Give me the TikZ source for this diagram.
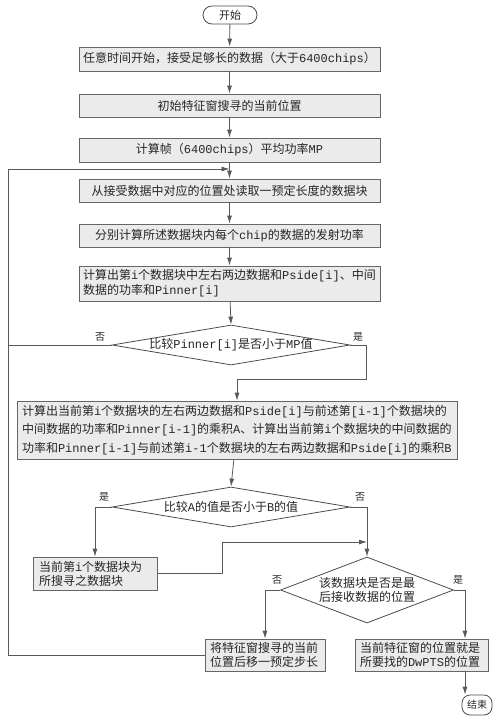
\documentclass[tikz,border=0pt]{standalone}
\usepackage{fontspec}
\setmainfont{Noto Sans CJK SC}
\newfontfamily\mono{Liberation Mono}
\usetikzlibrary{arrows.meta,shapes.geometric}
\begin{document}
\begin{tikzpicture}[x=1pt,y=-1pt,
  every node/.style={text=black!85},
  box/.style={draw=black!60, fill=black!8, line width=0.8pt, minimum width=301pt, minimum height=23pt, inner sep=0pt, font=\fontsize{12}{15}\selectfont},
  term/.style={draw=black!70, line width=0.8pt, rounded corners=9pt, minimum width=54pt, minimum height=18pt, inner sep=0pt, font=\fontsize{11}{13}\selectfont},
  dia/.style={draw=black!70, line width=0.8pt, diamond, inner sep=0pt},
  dtext/.style={font=\fontsize{12}{14}\selectfont, align=center},
  lab/.style={font=\fontsize{10}{12}\selectfont},
  conn/.style={draw=black!65, line width=0.8pt},
  arr/.style={conn, -{Latex[length=8pt,width=5pt]}}
]
\useasboundingbox (0,0) rectangle (500,720);

\node[term] (start) at (230,15) {开始};
\node[box, minimum height=24pt] (b1) at (229.5,59) {任意时间开始，接受足够长的数据（大于{\mono 6400chips}）};
\node[box] (b2) at (229.5,105.5) {初始特征窗搜寻的当前位置};
\node[box, minimum height=24pt] (b3) at (229.5,150) {计算帧（{\mono 6400chips}）平均功率{\mono MP}};
\node[box] (b4) at (229.5,190.5) {从接受数据中对应的位置处读取一预定长度的数据块};
\node[box] (b5) at (229.5,235.5) {分别计算所述数据块内每个{\mono chip}的数据的发射功率};
\node[box, minimum height=35pt, text width=293pt, align=left] (b6) at (229.5,283.5) {计算出第{\mono i}个数据块中左右两边数据和{\mono Pside[i]}、中间\\数据的功率和{\mono Pinner[i]}};

\node[dia, minimum width=238pt, minimum height=40pt] (d1) at (231,345) {};
\node[dtext] (t1) at (d1.center) {比较{\mono Pinner[i]}是否小于{\mono MP}值};

\node[box, minimum width=440pt, minimum height=58pt, text width=430pt, align=left, font=\fontsize{12}{18.5}\selectfont] (b7) at (237,430) {计算出当前第{\mono i}个数据块的左右两边数据和{\mono Pside[i]}与前述第{\mono [i-1]}个数据块的\\中间数据的功率和{\mono Pinner[i-1]}的乘积{\mono A}、计算出当前第{\mono i}个数据块的中间数据的\\功率和{\mono Pinner[i-1]}与前述第{\mono i-1}个数据块的左右两边数据和{\mono Pside[i]}的乘积{\mono B}};

\node[dia, minimum width=238pt, minimum height=40pt] (d2) at (231,507) {};
\node[dtext] (t2) at (d2.center) {比较{\mono A}的值是否小于{\mono B}的值};

\node[box, minimum width=124pt, minimum height=33pt, text width=112pt, align=left, font=\fontsize{12}{14}\selectfont] (b8) at (95,573.5) {当前第{\mono i}个数据块为\\所搜寻之数据块};

\node[dia, minimum width=173pt, minimum height=66pt] (d3) at (367,590) {};
\node[dtext] (t3) at (d3.center) {该数据块是否是最\\后接收数据的位置};

\node[box, minimum width=120pt, minimum height=32pt, text width=110pt, align=left, font=\fontsize{12}{14}\selectfont] (b9) at (265,655) {将特征窗搜寻的当前\\位置后移一预定步长};
\node[box, minimum width=133pt, minimum height=32pt, text width=123pt, align=left, font=\fontsize{12}{14}\selectfont] (b10) at (421.5,655) {当前特征窗的位置就是\\所要找的{\mono DwPTS}的位置};

\node[term, minimum width=30pt, minimum height=20pt, rounded corners=8pt, font=\fontsize{10}{12}\selectfont] (end) at (477,705) {结束};

% labels
\node[lab] (l1) at (100,337) {否};
\node[lab] (l2) at (358,337) {是};
\node[lab] (l3) at (104,497) {是};
\node[lab] (l4) at (360,497) {否};
\node[lab] (l5) at (277,580) {否};
\node[lab] (l6) at (458,580) {是};

% coordinates
\coordinate (lx) at (8,0);
\coordinate (j1) at (229.5,169);
\coordinate (c1) at (366,379);
\coordinate (c2) at (222,542);
\coordinate (j2) at (367,542);
\coordinate (rx) at (465,0);

% connectors
\draw[arr] (start) -- (b1);
\draw[arr] (b1) -- (b2);
\draw[arr] (b2) -- (b3);
\draw[arr] (b3) -- (b4);
\draw[arr] (b4) -- (b5);
\draw[arr] (b5) -- (b6);
\draw[arr] (b6) -- (d1.north);
\draw[conn] (d1.west) -- (d1.west -| lx);
\draw[arr] (d1.east) -| (c1) -- (c1 -| b7.north) -- (b7.north);
\draw[arr] (b7) -- (d2.north);
\draw[arr] (d2.west) -| (b8.north);
\draw[arr] (d2.east) -| (d3.north);
\draw[arr] (b8.east) -| (c2) -- (j2);
\draw[arr] (d3.west) -| (b9.north);
\draw[arr] (d3.east) -| (b10.north -| rx);
\draw[arr] (b10.south -| rx) -- (end.north -| rx);
\draw[arr] (b9.west) -- (b9.west -| lx) -- (j1 -| lx) -- (j1);
\end{tikzpicture}
\end{document}
